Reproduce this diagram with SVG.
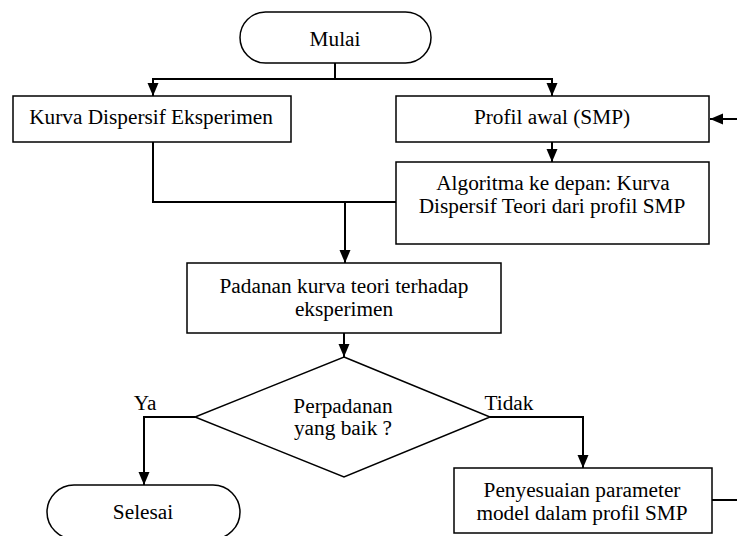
<svg xmlns="http://www.w3.org/2000/svg" width="737" height="536" viewBox="0 0 737 536">
<style>
  .box { fill: #fff; stroke: #000; stroke-width: 1.5; }
  .conn { fill: none; stroke: #000; stroke-width: 2; }
  text { font-family: "Liberation Serif", "Times New Roman", serif; font-size: 21.3px; fill: #000; text-anchor: middle; }
</style>
<defs>
  <marker id="arr" markerUnits="userSpaceOnUse" markerWidth="14" markerHeight="12" refX="13" refY="6" orient="auto">
    <path d="M0,0.5 L13,6 L0,11.5 Z" fill="#000"/>
  </marker>
</defs>
<rect width="737" height="536" fill="#fff"/>
<g id="connectors">
  <path class="conn" d="M335,63 V79"/>
  <path class="conn" d="M335,79 H153 V96" marker-end="url(#arr)"/>
  <path class="conn" d="M335,79 H552 V96" marker-end="url(#arr)"/>
  <path class="conn" d="M737,119 H710" marker-end="url(#arr)"/>
  <path class="conn" d="M552,142 V162" marker-end="url(#arr)"/>
  <path class="conn" d="M153,142 V202 H396"/>
  <path class="conn" d="M345,202 V263" marker-end="url(#arr)"/>
  <path class="conn" d="M344,333 V357" marker-end="url(#arr)"/>
  <path class="conn" d="M195,417 H144 V485" marker-end="url(#arr)"/>
  <path class="conn" d="M490,417 H583 V468" marker-end="url(#arr)"/>
  <path class="conn" d="M712,500 H737"/>
</g>
<g id="mulai">
  <rect class="box" x="240" y="12" width="191" height="51" rx="25.5" ry="25.5"/>
  <text x="335" y="46">Mulai</text>
</g>
<g id="kurva-eksperimen">
  <rect class="box" x="13" y="96" width="278" height="46"/>
  <text x="151" y="124">Kurva Dispersif Eksperimen</text>
</g>
<g id="profil-awal">
  <rect class="box" x="396" y="96" width="313" height="46"/>
  <text x="552" y="124">Profil awal (SMP)</text>
</g>
<g id="algoritma">
  <rect class="box" x="396" y="162" width="313" height="82"/>
  <text x="553" y="190">Algoritma ke depan: Kurva</text>
  <text x="552" y="213">Dispersif Teori dari profil SMP</text>
</g>
<g id="padanan">
  <rect class="box" x="187" y="263" width="314" height="70"/>
  <text x="344" y="293">Padanan kurva teori terhadap</text>
  <text x="344" y="316">eksperimen</text>
</g>
<g id="keputusan">
  <polygon class="box" points="344,357 490,417 344,477 195,417"/>
  <text x="343" y="413">Perpadanan</text>
  <text x="343" y="435">yang baik ?</text>
</g>
<g id="label-ya">
  <text x="145" y="410">Ya</text>
</g>
<g id="label-tidak">
  <text x="509" y="410">Tidak</text>
</g>
<g id="selesai">
  <rect class="box" x="47" y="485" width="193" height="54" rx="27" ry="27"/>
  <text x="143" y="519">Selesai</text>
</g>
<g id="penyesuaian">
  <rect class="box" x="454" y="468" width="258" height="65"/>
  <text x="582" y="497">Penyesuaian parameter</text>
  <text x="582" y="520">model dalam profil SMP</text>
</g>
</svg>
